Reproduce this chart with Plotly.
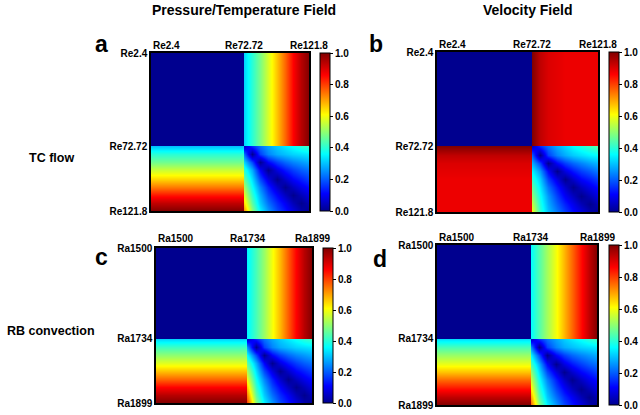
import plotly.graph_objects as go

# grid of flow parameters (top/left -> bottom/right)
re_vals = [2.4, 72.0, 72.72, 78.9, 85.0, 91.1, 97.3, 103.4, 109.5, 115.7, 121.8]
ra_vals = [1500, 1733, 1734, 1755, 1775, 1796, 1817, 1837, 1858, 1878, 1899]

re_ticks = [2.4, 72.72, 121.8]
re_labels = ["Re2.4", "Re72.72", "Re121.8"]
ra_ticks = [1500, 1734, 1899]
ra_labels = ["Ra1500", "Ra1734", "Ra1899"]

# a: TC flow, pressure field
z_tc_pressure = [
    [0.00, 0.00, 0.32, 0.40, 0.48, 0.57, 0.67, 0.76, 0.86, 0.94, 1.00],
    [0.00, 0.00, 0.32, 0.40, 0.48, 0.57, 0.67, 0.76, 0.86, 0.94, 1.00],
    [0.30, 0.30, 0.05, 0.15, 0.22, 0.27, 0.31, 0.34, 0.37, 0.40, 0.42],
    [0.40, 0.40, 0.22, 0.00, 0.17, 0.24, 0.28, 0.30, 0.32, 0.33, 0.34],
    [0.47, 0.47, 0.32, 0.18, 0.00, 0.11, 0.17, 0.21, 0.24, 0.26, 0.28],
    [0.56, 0.56, 0.40, 0.28, 0.11, 0.00, 0.08, 0.13, 0.17, 0.20, 0.22],
    [0.65, 0.65, 0.46, 0.33, 0.18, 0.08, 0.00, 0.06, 0.11, 0.14, 0.17],
    [0.74, 0.74, 0.52, 0.37, 0.24, 0.14, 0.06, 0.00, 0.05, 0.09, 0.12],
    [0.84, 0.84, 0.58, 0.41, 0.28, 0.18, 0.11, 0.05, 0.00, 0.04, 0.08],
    [0.93, 0.93, 0.64, 0.45, 0.31, 0.22, 0.15, 0.10, 0.04, 0.00, 0.04],
    [1.00, 1.00, 0.72, 0.50, 0.35, 0.26, 0.18, 0.13, 0.08, 0.03, 0.00],
]

# b: TC flow, velocity field
z_tc_velocity = [
    [0.00, 0.00, 1.00, 0.93, 0.90, 0.89, 0.88, 0.88, 0.88, 0.88, 0.88],
    [0.00, 0.00, 1.00, 0.93, 0.90, 0.89, 0.88, 0.88, 0.88, 0.88, 0.88],
    [1.00, 1.00, 0.05, 0.15, 0.22, 0.28, 0.32, 0.36, 0.39, 0.42, 0.45],
    [0.93, 0.93, 0.20, 0.00, 0.17, 0.24, 0.28, 0.31, 0.33, 0.35, 0.36],
    [0.90, 0.90, 0.28, 0.17, 0.00, 0.11, 0.17, 0.21, 0.24, 0.27, 0.29],
    [0.89, 0.89, 0.35, 0.26, 0.11, 0.00, 0.08, 0.13, 0.17, 0.20, 0.23],
    [0.88, 0.88, 0.40, 0.31, 0.17, 0.08, 0.00, 0.06, 0.11, 0.14, 0.17],
    [0.88, 0.88, 0.45, 0.34, 0.22, 0.13, 0.06, 0.00, 0.05, 0.09, 0.12],
    [0.88, 0.88, 0.50, 0.37, 0.26, 0.17, 0.10, 0.05, 0.00, 0.04, 0.08],
    [0.88, 0.88, 0.55, 0.39, 0.28, 0.20, 0.14, 0.09, 0.04, 0.00, 0.04],
    [0.88, 0.88, 0.60, 0.41, 0.30, 0.23, 0.17, 0.12, 0.08, 0.03, 0.00],
]

# c: RB convection, temperature field
z_rb_temperature = [
    [0.00, 0.00, 0.35, 0.43, 0.51, 0.60, 0.68, 0.77, 0.86, 0.94, 1.00],
    [0.00, 0.00, 0.35, 0.43, 0.51, 0.60, 0.68, 0.77, 0.86, 0.94, 1.00],
    [0.32, 0.32, 0.05, 0.14, 0.22, 0.27, 0.31, 0.34, 0.37, 0.40, 0.42],
    [0.42, 0.42, 0.25, 0.00, 0.17, 0.24, 0.28, 0.30, 0.32, 0.33, 0.34],
    [0.50, 0.50, 0.36, 0.18, 0.00, 0.11, 0.17, 0.21, 0.24, 0.26, 0.28],
    [0.58, 0.58, 0.45, 0.28, 0.11, 0.00, 0.08, 0.13, 0.17, 0.20, 0.22],
    [0.67, 0.67, 0.52, 0.33, 0.18, 0.08, 0.00, 0.06, 0.11, 0.14, 0.17],
    [0.76, 0.76, 0.59, 0.37, 0.24, 0.14, 0.06, 0.00, 0.05, 0.09, 0.12],
    [0.86, 0.86, 0.66, 0.41, 0.28, 0.18, 0.11, 0.05, 0.00, 0.04, 0.08],
    [0.94, 0.94, 0.73, 0.45, 0.31, 0.22, 0.15, 0.10, 0.04, 0.00, 0.04],
    [1.00, 1.00, 0.80, 0.50, 0.35, 0.26, 0.18, 0.13, 0.08, 0.03, 0.00],
]

# d: RB convection, velocity field
z_rb_velocity = [
    [0.00, 0.00, 0.36, 0.44, 0.52, 0.60, 0.68, 0.76, 0.85, 0.93, 1.00],
    [0.00, 0.00, 0.36, 0.44, 0.52, 0.60, 0.68, 0.76, 0.85, 0.93, 1.00],
    [0.33, 0.33, 0.05, 0.15, 0.22, 0.27, 0.31, 0.34, 0.37, 0.40, 0.42],
    [0.43, 0.43, 0.24, 0.00, 0.17, 0.24, 0.28, 0.30, 0.32, 0.33, 0.34],
    [0.51, 0.51, 0.35, 0.18, 0.00, 0.11, 0.17, 0.21, 0.24, 0.26, 0.28],
    [0.59, 0.59, 0.43, 0.28, 0.11, 0.00, 0.08, 0.13, 0.17, 0.20, 0.22],
    [0.67, 0.67, 0.50, 0.33, 0.18, 0.08, 0.00, 0.06, 0.11, 0.14, 0.17],
    [0.76, 0.76, 0.56, 0.37, 0.24, 0.14, 0.06, 0.00, 0.05, 0.09, 0.12],
    [0.85, 0.85, 0.62, 0.41, 0.28, 0.18, 0.11, 0.05, 0.00, 0.04, 0.08],
    [0.93, 0.93, 0.69, 0.45, 0.31, 0.22, 0.15, 0.10, 0.04, 0.00, 0.04],
    [1.00, 1.00, 0.76, 0.50, 0.35, 0.26, 0.18, 0.13, 0.08, 0.03, 0.00],
]

FONT = "Liberation Sans, Arial, sans-serif"
W, H = 640, 415

jet = [
    [0.0, "rgb(0,0,143)"],
    [0.11, "rgb(0,0,255)"],
    [0.36, "rgb(0,255,255)"],
    [0.61, "rgb(255,255,0)"],
    [0.86, "rgb(255,0,0)"],
    [1.0, "rgb(128,0,0)"],
]

# pixel boxes: (left, top, right, bottom) for plot and colorbar
panels = [
    dict(z=z_tc_pressure, vals=re_vals, ticks=re_ticks, labels=re_labels,
         box=(151, 53, 309, 211), cb=(320, 53, 211), letter="a", lpos=(101, 44), top_y=45),
    dict(z=z_tc_velocity, vals=re_vals, ticks=re_ticks, labels=re_labels,
         box=(437, 52, 598, 212), cb=(609, 52, 212), letter="b", lpos=(376, 44), top_y=44.5),
    dict(z=z_rb_temperature, vals=ra_vals, ticks=ra_ticks, labels=ra_labels,
         box=(156, 248, 312, 403), cb=(323, 248, 403), letter="c", lpos=(101, 257), top_y=238.5),
    dict(z=z_rb_velocity, vals=ra_vals, ticks=ra_ticks, labels=ra_labels,
         box=(437, 245, 597, 405), cb=(609, 245, 405), letter="d", lpos=(380, 259), top_y=237.5),
]

fig = go.Figure()
layout = dict(
    width=W, height=H,
    margin=dict(l=0, r=0, t=0, b=0, autoexpand=False),
    paper_bgcolor="white", plot_bgcolor="white",
    showlegend=False,
    font=dict(family=FONT, color="black"),
)
annotations = []

for i, p in enumerate(panels, start=1):
    sfx = "" if i == 1 else str(i)
    l, t, r, b = p["box"]
    cbx, cbt, cbb = p["cb"]
    fig.add_trace(go.Heatmap(
        x=p["vals"], y=p["vals"], z=p["z"],
        zmin=0, zmax=1, zsmooth="best", colorscale=jet,
        xaxis="x" + sfx, yaxis="y" + sfx,
        colorbar=dict(
            x=cbx / W, xanchor="left", xpad=0,
            y=1 - (cbt + cbb) / 2 / H, yanchor="middle", ypad=0,
            len=(cbb - cbt) / H, lenmode="fraction",
            thickness=10, thicknessmode="pixels",
            outlinewidth=1, outlinecolor="black",
            tickvals=[0, 0.2, 0.4, 0.6, 0.8, 1.0], tickformat=".1f",
            ticks="outside", ticklen=3, tickcolor="black",
            tickfont=dict(size=10, family=FONT, weight="bold"),
        ),
    ))
    lo, hi = p["vals"][0], p["vals"][-1]
    layout["xaxis" + sfx] = dict(
        domain=[l / W, r / W], range=[lo, hi], anchor="y" + sfx,
        showgrid=False, zeroline=False, showticklabels=False, ticks="",
        showline=True, mirror=True, linecolor="black", linewidth=1.5,
    )
    layout["yaxis" + sfx] = dict(
        domain=[1 - b / H, 1 - t / H], range=[hi, lo], anchor="x" + sfx,
        showgrid=False, zeroline=False, ticks="",
        tickvals=p["ticks"], ticktext=p["labels"],
        tickfont=dict(size=10, family=FONT, weight="bold"),
        showline=True, mirror=True, linecolor="black", linewidth=1.5,
    )
    # top tick labels
    for j, (tv, tt) in enumerate(zip(p["ticks"], p["labels"])):
        annotations.append(dict(
            x=tv, xref="x" + sfx, y=1 - p["top_y"] / H, yref="paper",
            text=tt, showarrow=False, xanchor="left" if j == 0 else "center",
            yanchor="middle", font=dict(size=10, family=FONT, weight="bold"),
        ))
    lx, ly = p["lpos"]
    annotations.append(dict(
        x=lx / W, y=1 - ly / H, xref="paper", yref="paper", text=p["letter"],
        showarrow=False, xanchor="center", yanchor="middle",
        font=dict(size=23, family=FONT, weight="bold"),
    ))

for txt, x, y, size in [
    ("Pressure/Temperature Field", 243.5, 10, 14),
    ("Velocity Field", 527, 10, 14),
    ("TC flow", 51, 158, 12.5),
    ("RB convection", 51, 331, 12.5),
]:
    annotations.append(dict(
        x=x / W, y=1 - y / H, xref="paper", yref="paper", text=txt,
        showarrow=False, xanchor="center", yanchor="middle",
        font=dict(size=size, family=FONT, weight="bold"),
    ))

layout["annotations"] = annotations
fig.update_layout(**layout)
fig.write_html(
    "out.html",
    config={"displayModeBar": False},
    post_script="document.body.style.margin='0';document.body.style.overflow='hidden';",
)
